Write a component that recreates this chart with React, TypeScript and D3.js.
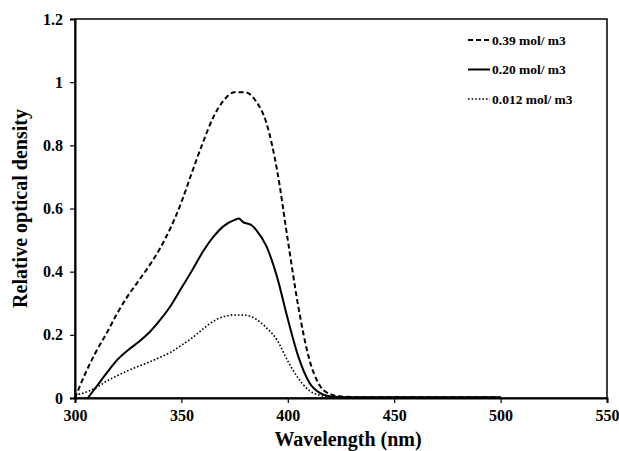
import React, { useEffect, useRef } from "react";
import * as d3 from "d3";

// wavelengths (nm) and relative optical density
const wl039 = [300, 305, 310, 315, 320, 325, 330, 335, 340, 345, 350, 355, 360, 365, 370, 375, 380, 385, 390, 395, 400, 405, 410, 415, 420, 425, 430, 450, 475, 500];
const od039 = [0.0, 0.08, 0.148, 0.207, 0.27, 0.325, 0.372, 0.42, 0.474, 0.54, 0.62, 0.715, 0.807, 0.889, 0.943, 0.968, 0.968, 0.94, 0.87, 0.72, 0.5, 0.287, 0.125, 0.04, 0.012, 0.005, 0.003, 0.002, 0.002, 0.002];

const wl020 = [306, 310, 315, 320, 325, 330, 335, 340, 345, 350, 355, 360, 365, 370, 375, 377, 379, 383, 385, 390, 395, 400, 405, 410, 415, 420, 430, 450, 475, 500];
const od020 = [0.0, 0.035, 0.08, 0.122, 0.152, 0.178, 0.208, 0.247, 0.292, 0.348, 0.404, 0.462, 0.51, 0.545, 0.564, 0.568, 0.557, 0.547, 0.533, 0.48, 0.382, 0.25, 0.13, 0.05, 0.016, 0.005, 0.002, 0.002, 0.002, 0.002];

const wl0012 = [300, 305, 310, 315, 320, 325, 330, 335, 340, 345, 350, 355, 360, 365, 370, 375, 380, 385, 390, 395, 400, 405, 410, 415, 420, 430, 450, 475, 500];
const od0012 = [0.01, 0.018, 0.033, 0.054, 0.071, 0.087, 0.101, 0.114, 0.129, 0.145, 0.167, 0.19, 0.218, 0.243, 0.258, 0.263, 0.262, 0.25, 0.222, 0.183, 0.117, 0.062, 0.024, 0.009, 0.003, 0.002, 0.002, 0.002, 0.002];

const seriesLabels = ["0.39 mol/ m3", "0.20 mol/ m3", "0.012 mol/ m3"];
const xTicks = [300, 350, 400, 450, 500, 550];
const yTicks = [0, 0.2, 0.4, 0.6, 0.8, 1, 1.2];

const FONT = "Liberation Serif, Times New Roman, DejaVu Serif, serif";

export default function App() {
  const ref = useRef<SVGSVGElement>(null);

  useEffect(() => {
    const width = 619;
    const height = 451;
    const margin = { top: 19, right: 12, bottom: 53, left: 75 };
    const innerWidth = width - margin.left - margin.right;
    const innerHeight = height - margin.top - margin.bottom;

    const svg = d3.select(ref.current)
      .attr("width", width)
      .attr("height", height)
      .attr("font-family", FONT)
      .attr("font-weight", "bold");
    svg.selectAll("*").remove();

    const g = svg.append("g").attr("transform", `translate(${margin.left}, ${margin.top})`);

    const xScale = d3.scaleLinear().domain([300, 550]).range([0, innerWidth]);
    const yScale = d3.scaleLinear().domain([0, 1.2]).range([innerHeight, 0]);

    // frame
    g.append("rect")
      .attr("width", innerWidth)
      .attr("height", innerHeight)
      .attr("fill", "none")
      .attr("stroke", "#000")
      .attr("stroke-width", 1.5);

    const xAxis = d3.axisBottom(xScale).tickValues(xTicks).tickSize(5).tickPadding(7).tickFormat(d3.format("d"));
    const yAxis = d3.axisLeft(yScale).tickValues(yTicks).tickSize(5).tickPadding(7).tickFormat((d) => String(d));

    const gx = g.append("g").attr("transform", `translate(0, ${innerHeight})`).call(xAxis);
    const gy = g.append("g").call(yAxis);

    [gx, gy].forEach((ax) => {
      ax.attr("font-family", FONT).attr("font-size", 16);
      ax.select(".domain").attr("stroke-width", 2);
      ax.selectAll(".tick line").attr("stroke-width", 1.2);
      ax.selectAll(".tick text").attr("fill", "#000");
    });

    const series = [
      { wl: wl039, od: od039, dash: "5,3", w: 2 },
      { wl: wl020, od: od020, dash: null, w: 2 },
      { wl: wl0012, od: od0012, dash: "1.6,2", w: 1.6 },
    ];

    const line = d3
      .line<[number, number]>()
      .x((d) => xScale(d[0]))
      .y((d) => yScale(d[1]))
      .curve(d3.curveMonotoneX);

    series.forEach((s) => {
      const pts = s.wl.map((w, i) => [w, s.od[i]] as [number, number]);
      g.append("path")
        .attr("d", line(pts))
        .attr("fill", "none")
        .attr("stroke", "#000")
        .attr("stroke-width", s.w)
        .attr("stroke-dasharray", s.dash);
    });

    // legend
    const legend = svg.append("g").attr("transform", "translate(468, 40)");
    series.forEach((s, i) => {
      const row = legend.append("g").attr("transform", `translate(0, ${i * 29.5})`);
      row.append("line")
        .attr("x1", 0)
        .attr("x2", 22)
        .attr("y1", 0)
        .attr("y2", 0)
        .attr("stroke", "#000")
        .attr("stroke-width", s.w)
        .attr("stroke-dasharray", s.dash);
      row.append("text")
        .attr("x", 24)
        .attr("y", 4.5)
        .attr("font-size", 13.5)
        .text(seriesLabels[i]);
    });

    svg.append("text")
      .attr("text-anchor", "middle")
      .attr("x", margin.left + innerWidth / 2 + 7)
      .attr("y", 446)
      .attr("font-size", 20)
      .text("Wavelength (nm)");

    svg.append("text")
      .attr("text-anchor", "middle")
      .attr("transform", "rotate(-90)")
      .attr("x", -(margin.top + innerHeight / 2))
      .attr("y", 27)
      .attr("font-size", 20)
      .text("Relative optical density");
  }, []);

  return (
    <svg ref={ref} style={{ position: "absolute", left: 0, top: 0, background: "#fff" }} />
  );
}
